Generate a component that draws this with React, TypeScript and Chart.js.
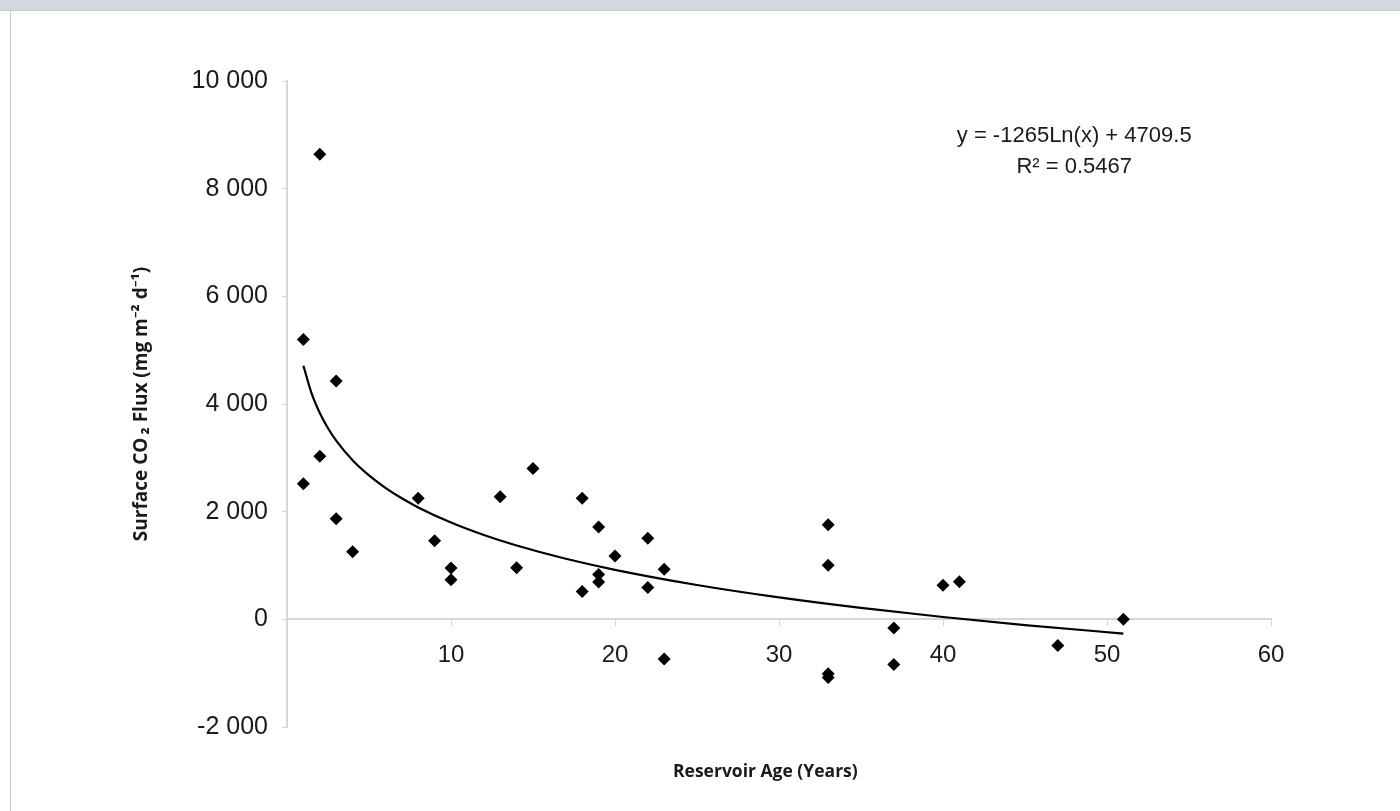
import { useEffect, useRef } from 'react';
import { Chart, registerables } from 'chart.js';

Chart.register(...registerables);

// Observed reservoirs: age (years) and surface CO2 flux (mg m-2 d-1)
const ageYears = [1, 1, 2, 2, 3, 3, 4, 8, 9, 10, 10, 13, 14, 15, 18, 18, 19, 19, 19, 20, 22, 22, 23, 23, 33, 33, 33, 33, 37, 37, 40, 41, 47, 51];
const co2Flux = [5200, 2520, 8640, 3030, 4425, 1870, 1255, 2250, 1460, 955, 735, 2275, 960, 2800, 2250, 515, 1715, 835, 695, 1175, 1505, 590, 930, -735, 1755, 1005, -1010, -1080, -160, -840, 635, 700, -485, 0];

// Logarithmic trend line as drawn on the chart
const trendAge = [1, 1.5, 2, 2.5, 3, 4, 5, 6, 7, 8, 10, 12, 14, 17, 20, 25, 30, 35, 40, 45, 51];
const trendFlux = [4710, 4197, 3833, 3550, 3320, 2956, 2674, 2443, 2248, 2079, 1797, 1566, 1371, 1125, 920, 638, 407, 212, 43, -106, -264];

const xTickValues = [10, 20, 30, 40, 50, 60];
const yTickValues = [-2000, 0, 2000, 4000, 6000, 8000, 10000];

const equationLines = ['y = -1265Ln(x) + 4709.5', 'R\u00B2 = 0.5467'];
const equationAnchorX = 48;
const equationAnchorY = [8980, 8400];

const xTitle = 'Reservoir Age (Years)';
const yTitle = 'Surface CO\u2009\u2082 Flux (mg m\u207B\u00B2 d\u207B\u00B9)';

const tickFont = '"Liberation Sans", Arial, Helvetica, sans-serif';
const titleFont = '"Open Sans", "Noto Sans", sans-serif';

function formatThousands(v: number): string {
  const n = Math.round(Number(v));
  const s = Math.abs(n).toString().replace(/\B(?=(\d{3})+(?!\d))/g, ' ');
  return (n < 0 ? '-' : '') + s;
}

const equationPlugin = {
  id: 'equationLabel',
  afterDraw(chart: any) {
    const { ctx, scales } = chart;
    const x = scales.x;
    const y = scales.y;
    ctx.save();
    ctx.font = '22px ' + tickFont;
    ctx.fillStyle = '#1a1a1a';
    ctx.textAlign = 'center';
    ctx.textBaseline = 'middle';
    equationLines.forEach((line, i) => {
      ctx.fillText(line, x.getPixelForValue(equationAnchorX), y.getPixelForValue(equationAnchorY[i]));
    });
    ctx.restore();
  },
};

export default function App() {
  const canvasRef = useRef<HTMLCanvasElement | null>(null);

  useEffect(() => {
    const canvas = canvasRef.current;
    if (!canvas) return;
    const chart = new Chart(canvas, {
      type: 'scatter',
      data: {
        datasets: [
          {
            type: 'line',
            label: 'Trend',
            data: trendAge.map((x, i) => ({ x, y: trendFlux[i] })),
            borderColor: '#000',
            borderWidth: 2.2,
            pointRadius: 0,
            cubicInterpolationMode: 'monotone',
            fill: false,
            order: 2,
          } as any,
          {
            type: 'scatter',
            label: 'Flux',
            data: ageYears.map((x, i) => ({ x, y: co2Flux[i] })),
            pointStyle: 'rectRot',
            pointRadius: 6.5,
            backgroundColor: '#000',
            borderColor: '#000',
            borderWidth: 0,
            order: 1,
          } as any,
        ],
      },
      options: {
        responsive: false,
        maintainAspectRatio: false,
        animation: false,
        layout: { padding: { left: 0, top: 81, right: 129, bottom: 84 } },
        plugins: {
          legend: { display: false },
          tooltip: { enabled: false },
        },
        scales: {
          x: {
            type: 'linear',
            position: { y: 0 } as any,
            min: 0,
            max: 60,
            afterBuildTicks: (s: any) => {
              s.ticks = xTickValues.map((v) => ({ value: v }));
            },
            ticks: {
              font: { family: tickFont, size: 24 },
              color: '#1a1a1a',
              padding: 16,
              maxRotation: 0,
              callback: (v: any) => String(v),
            },
            grid: { drawOnChartArea: false, drawTicks: true, tickLength: 6, color: '#d6d6d6', lineWidth: 1 },
            border: { display: true, color: '#d6d6d6', width: 2 },
            title: {
              display: true,
              text: xTitle + '\u00A0\u00A0\u00A0\u00A0\u00A0\u00A0',
              font: { family: titleFont, size: 17.5, weight: 'bold' },
              color: '#1a1a1a',
              padding: { top: 0, bottom: 0 },
            },
            afterFit: (s: any) => {
              s.height = 163;
            },
          } as any,
          y: {
            type: 'linear',
            min: -2000,
            max: 10000,
            afterBuildTicks: (s: any) => {
              s.ticks = yTickValues.map((v) => ({ value: v }));
            },
            ticks: {
              font: { family: tickFont, size: 25 },
              color: '#1a1a1a',
              padding: 14,
              callback: (v: any) => formatThousands(v),
            },
            grid: { drawOnChartArea: false, drawTicks: true, tickLength: 5, color: '#d6d6d6', lineWidth: 1 },
            border: { display: true, color: '#d6d6d6', width: 2 },
            title: {
              display: true,
              text: yTitle,
              font: { family: titleFont, size: 19, weight: 'bold' },
              color: '#1a1a1a',
              padding: { top: 130, bottom: 0 },
            },
            afterFit: (s: any) => {
              s.width = 287;
            },
          } as any,
        },
      },
      plugins: [equationPlugin],
    });
    return () => chart.destroy();
  }, []);

  return (
    <div style={{ position: 'fixed', left: 0, top: 0, width: 1400, height: 811, background: '#ffffff', overflow: 'hidden' }}>
      <canvas ref={canvasRef} width={1400} height={811} style={{ position: 'absolute', left: 0, top: 0, width: 1400, height: 811 }} />
      <div style={{ position: 'absolute', left: 0, top: 0, width: 1400, height: 10, background: '#d3d9df', borderBottom: '1px solid #c2c8ce' }} />
      <div style={{ position: 'absolute', left: 10, top: 11, width: 1, height: 800, background: '#c9c9c9' }} />
    </div>
  );
}
